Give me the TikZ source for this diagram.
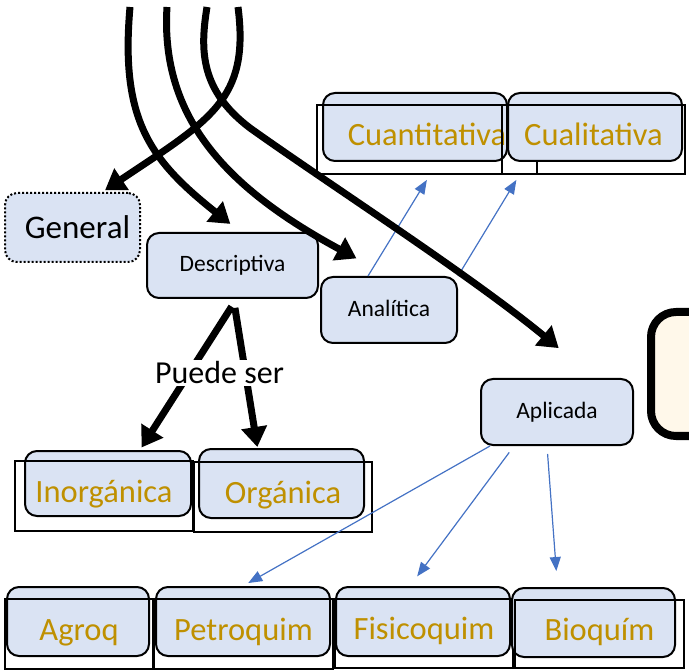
\documentclass[tikz,border=0pt]{standalone}
\usepackage{fontspec}
\setmainfont{Carlito}
\usetikzlibrary{arrows.meta}
\definecolor{boxfill}{HTML}{DAE3F3}
\definecolor{gold}{HTML}{BF9000}
\definecolor{cream}{HTML}{FFF8EA}
\definecolor{linkblue}{HTML}{4472C4}
\tikzset{
  box/.style={draw, line width=2pt, rounded corners=12pt, fill=boxfill, inner sep=0pt,
    font=\fontsize{23.5}{28}\selectfont},
  back/.style={draw, line width=2pt, rounded corners=12pt, fill=boxfill, inner sep=0pt},
  kind/.style={draw, line width=1.6pt, inner sep=0pt, text=gold, text height=28pt, text depth=16pt,
    font=\fontsize{32.5}{38}\selectfont},
  flow/.style={line width=7pt, -{Triangle[length=20pt,width=25pt]}},
  sub/.style={draw=linkblue, line width=1.2pt, -{Triangle[length=14pt,width=11pt]}}
}
\begin{document}
\begin{tikzpicture}[x=1pt,y=-1pt]
  \useasboundingbox (0,0) rectangle (689,671);
  \coordinate (top1) at (130,7);
  \coordinate (top2) at (167,7);
  \coordinate (top3) at (207,7);
  \coordinate (top4) at (238,7);

  % tipos
  \node[box, dash pattern=on 2pt off 2pt, minimum width=135pt, minimum height=69pt,
    font=\fontsize{33}{38}\selectfont] (gen) at (72.5,227.5) {\hspace*{10pt}General};
  \node[box, minimum width=171pt, minimum height=65pt] (desc) at (232.5,265.5) {Descriptiva};
  \node[box, minimum width=136pt, minimum height=66pt] (ana) at (389,310) {\raisebox{3pt}{Analítica}};
  \node[box, minimum width=152pt, minimum height=66pt] (apl) at (557,412) {Aplicada};
  \node[draw, line width=8pt, rounded corners=25pt, fill=cream,
    minimum width=100pt, minimum height=124pt] (nota) at (701,374) {};

  % clases
  \node[back, minimum width=184pt, minimum height=68pt] (cuanB) at (415,127) {};
  \node[kind, minimum width=220pt, minimum height=69pt] (cuan) at (427,139.5) {Cuantitativa};
  \node[back, minimum width=174pt, minimum height=68pt] (cualB) at (595,127) {};
  \node[kind, minimum width=183pt, minimum height=69pt] (cual) at (593.5,139.5) {Cualitativa};

  \node[back, minimum width=166pt, minimum height=65pt] (inorgB) at (108,483.5) {};
  \node[kind, minimum width=178pt, minimum height=70pt] (inorg) at (104,496) {Inorgánica};
  \node[back, minimum width=165pt, minimum height=69pt] (orgB) at (281.5,483.5) {};
  \node[kind, minimum width=178pt, minimum height=70pt] (org) at (283,497) {Orgánica};

  \node[back, minimum width=142pt, minimum height=69pt] (agroB) at (78,621.5) {};
  \node[kind, minimum width=148pt, minimum height=70pt] (agro) at (79,634) {Agroq};
  \node[back, minimum width=174pt, minimum height=69pt] (petroB) at (243,621.5) {};
  \node[kind, minimum width=179pt, minimum height=70pt] (petro) at (243.5,634) {Petroquim};
  \node[back, minimum width=174pt, minimum height=69pt] (fisicoB) at (423,621.5) {};
  \node[kind, minimum width=178pt, minimum height=69pt] (fisico) at (424,633.5) {Fisicoquim};
  \node[back, minimum width=163pt, minimum height=69pt] (bioB) at (593.5,622.5) {};
  \node[kind, minimum width=169pt, minimum height=68pt] (bio) at (599.5,634) {Bioquím};

  % flechas azules
  \draw[sub, shorten >=6pt] ([xshift=-21pt]ana.north) -- ([xshift=3pt]cuan.south);
  \draw[sub, shorten >=6pt] (ana.north east) -- ([xshift=-74pt]cual.south);
  \draw[sub, shorten >=6pt] ([xshift=-67pt]apl.south) -- (petroB.north);
  \draw[sub, shorten <=8pt, shorten >=12pt] ([xshift=-43pt]apl.south) -- ([xshift=-13pt]fisicoB.north);
  \draw[sub, shorten <=8pt, shorten >=16pt] ([xshift=-10pt]apl.south) -- ([xshift=-36pt]bioB.north);

  % puede ser
  \draw[flow, shorten <=9pt, shorten >=3pt] ([xshift=4pt]desc.south) -- ([xshift=32pt]inorgB.north);
  \draw[flow, shorten <=9pt, shorten >=1pt] ([xshift=1pt]desc.south) -- ([xshift=-24pt]orgB.north);
  \node[fill=white, inner sep=2pt, font=\fontsize{32}{38}\selectfont] (puede) at (219.5,373) {Puede ser};

  % curvas
  \draw[flow, shorten >=3pt] (top4) .. controls (250,100) and (210,120) .. ([xshift=30pt]gen.north);
  \draw[flow, shorten >=13pt] (top1) .. controls (120,120) and (150,160) .. ([xshift=8pt]desc.north);
  \draw[flow, shorten >=37pt] (top2) .. controls (160,120) and (230,190) .. (ana.north);
  \draw[flow, shorten >=47pt] (top3) .. controls (200,50) and (200,90) .. (250,128)
    .. controls (330,185) and (470,275) .. ([xshift=38pt]apl.north);
\end{tikzpicture}
\end{document}
